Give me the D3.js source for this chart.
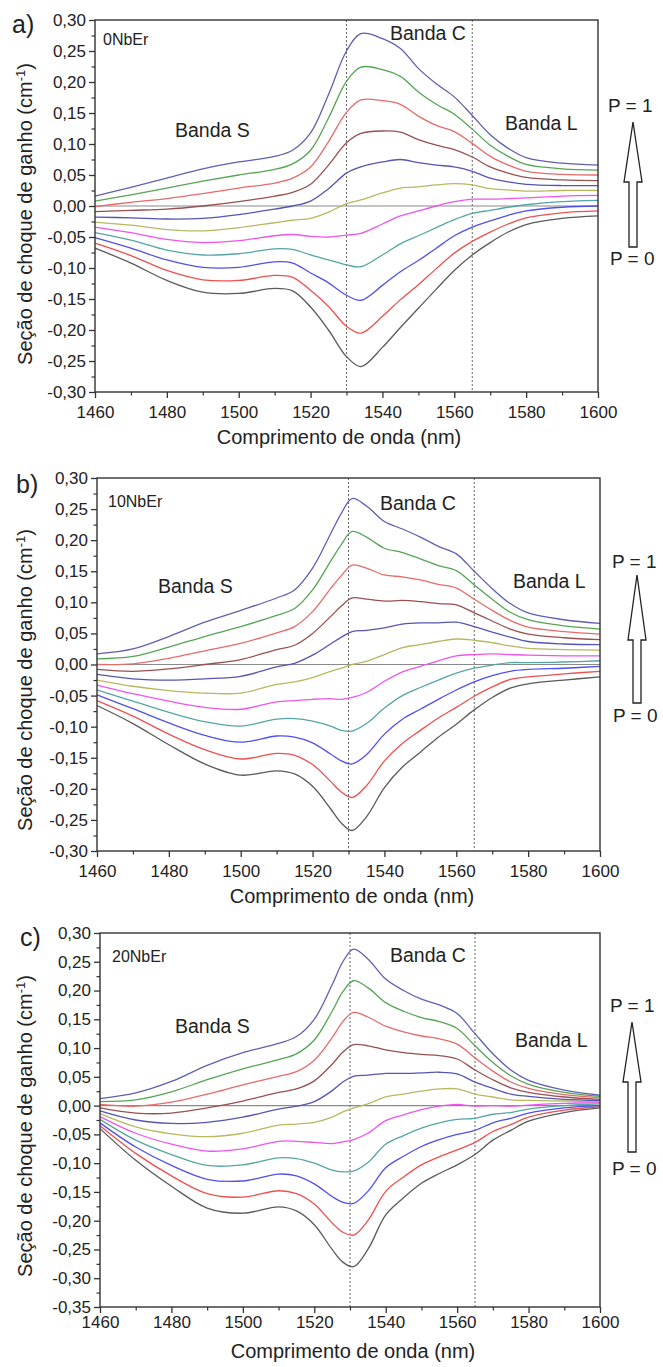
<!DOCTYPE html>
<html><head><meta charset="utf-8">
<script src="https://cdn.jsdelivr.net/npm/d3@7"></script>
<style>
body{margin:0;background:#fff}
svg{display:block}
text{font-family:"Liberation Sans",Arial,Helvetica,sans-serif;fill:#222}
</style>
</head><body>
<svg id="chart" width="663" height="1367"></svg>
<script>
// ---------------- DATA ----------------
const wlA = [1460,1470,1480,1490,1500,1510,1515,1520,1525,1530,1534,1540,1545,1550,1555,1560,1565,1570,1575,1580,1590,1600];
const a00 = [-.068,-.092,-.120,-.139,-.141,-.133,-.137,-.163,-.200,-.243,-.259,-.228,-.196,-.165,-.134,-.104,-.079,-.059,-.042,-.030,-.020,-.016];
const a01 = [-.060,-.080,-.104,-.119,-.120,-.112,-.115,-.136,-.162,-.194,-.205,-.178,-.151,-.127,-.101,-.076,-.057,-.042,-.029,-.019,-.011,-.008];
const a02 = [-.051,-.068,-.087,-.099,-.099,-.090,-.092,-.108,-.124,-.144,-.152,-.128,-.106,-.088,-.068,-.048,-.034,-.024,-.015,-.008,-.002,.000];
const a03 = [-.043,-.055,-.071,-.079,-.077,-.069,-.070,-.079,-.087,-.095,-.098,-.079,-.061,-.048,-.035,-.022,-.012,-.007,-.002,.002,.007,.009];
const a04 = [-.034,-.043,-.054,-.059,-.056,-.048,-.046,-.049,-.050,-.047,-.044,-.029,-.016,-.008,.000,.007,.011,.011,.012,.013,.016,.017];
const a05 = [-.026,-.031,-.038,-.040,-.035,-.027,-.023,-.020,-.010,.004,.010,.021,.029,.031,.034,.036,.034,.028,.026,.024,.025,.025];
const a06 = [-.018,-.019,-.021,-.020,-.014,-.005,.000,.008,.028,.053,.063,.071,.075,.070,.066,.063,.056,.045,.039,.035,.033,.033];
const a07 = [-.009,-.007,-.005,.000,.007,.016,.022,.035,.066,.102,.117,.121,.119,.107,.098,.091,.079,.063,.053,.046,.042,.041];
const a08 = [-.001,.006,.012,.020,.029,.037,.045,.063,.104,.151,.171,.170,.164,.145,.130,.120,.101,.080,.066,.056,.051,.050];
const a09 = [.008,.018,.029,.040,.050,.059,.068,.090,.142,.201,.224,.220,.209,.184,.164,.148,.124,.098,.080,.067,.060,.058];
const a10 = [.016,.030,.045,.060,.071,.080,.090,.118,.180,.250,.278,.270,.254,.222,.197,.176,.146,.115,.093,.078,.069,.066];

const wlB = [1460,1470,1480,1490,1500,1510,1515,1520,1525,1528,1531,1535,1540,1545,1550,1555,1560,1565,1570,1575,1580,1590,1600];
const b00 = [-.066,-.095,-.129,-.160,-.178,-.171,-.176,-.196,-.232,-.255,-.267,-.245,-.198,-.165,-.141,-.117,-.096,-.073,-.053,-.038,-.031,-.025,-.020];
const b01 = [-.058,-.083,-.112,-.137,-.152,-.143,-.146,-.161,-.188,-.205,-.214,-.195,-.155,-.127,-.106,-.086,-.069,-.051,-.036,-.024,-.020,-.015,-.011];
const b02 = [-.049,-.071,-.094,-.114,-.125,-.115,-.117,-.126,-.144,-.155,-.160,-.145,-.112,-.088,-.072,-.056,-.041,-.028,-.018,-.011,-.008,-.006,-.003];
const b03 = [-.041,-.059,-.077,-.092,-.099,-.088,-.087,-.091,-.099,-.106,-.107,-.095,-.070,-.050,-.037,-.025,-.014,-.006,-.001,.003,.003,.004,.006];
const b04 = [-.033,-.047,-.059,-.069,-.072,-.060,-.058,-.056,-.055,-.056,-.053,-.045,-.027,-.012,-.003,.006,.014,.016,.017,.016,.015,.014,.014];
const b05 = [-.025,-.035,-.042,-.046,-.046,-.032,-.028,-.021,-.011,-.006,.000,.005,.016,.027,.032,.037,.041,.039,.035,.030,.026,.024,.023];
const b06 = [-.016,-.023,-.025,-.023,-.019,-.004,.002,.015,.033,.044,.053,.055,.059,.065,.067,.067,.068,.061,.052,.044,.037,.033,.032];
const b07 = [-.008,-.011,-.007,.000,.008,.024,.031,.050,.077,.094,.107,.105,.102,.103,.101,.098,.096,.083,.070,.057,.049,.043,.040];
const b08 = [.000,.001,.010,.022,.034,.051,.061,.085,.122,.143,.160,.155,.144,.141,.136,.129,.123,.105,.087,.071,.060,.053,.049];
const b09 = [.009,.013,.028,.045,.061,.079,.090,.120,.166,.193,.214,.205,.187,.180,.170,.159,.151,.128,.105,.084,.072,.062,.057];
const b10 = [.017,.025,.045,.068,.087,.107,.120,.155,.210,.243,.267,.255,.230,.218,.205,.190,.178,.150,.122,.098,.083,.072,.066];

const wlC = [1460,1470,1480,1490,1500,1510,1515,1520,1525,1528,1531,1535,1540,1545,1550,1555,1560,1565,1570,1575,1580,1590,1600];
const c00 = [-.040,-.095,-.140,-.178,-.187,-.176,-.183,-.207,-.250,-.272,-.280,-.250,-.190,-.160,-.135,-.118,-.103,-.085,-.060,-.043,-.027,-.012,-.004];
const c01 = [-.035,-.083,-.122,-.153,-.159,-.148,-.153,-.171,-.204,-.220,-.225,-.200,-.149,-.124,-.103,-.089,-.077,-.064,-.045,-.033,-.020,-.008,-.002];
const c02 = [-.030,-.072,-.104,-.128,-.131,-.119,-.122,-.136,-.158,-.168,-.170,-.149,-.108,-.088,-.071,-.059,-.050,-.043,-.030,-.022,-.013,-.004,.000];
const c03 = [-.024,-.060,-.085,-.104,-.103,-.091,-.092,-.100,-.112,-.115,-.114,-.099,-.067,-.052,-.039,-.030,-.024,-.022,-.015,-.012,-.006,.000,.003];
const c04 = [-.019,-.048,-.067,-.079,-.075,-.062,-.062,-.064,-.066,-.063,-.059,-.048,-.026,-.016,-.007,-.001,.002,-.001,.000,-.001,.001,.004,.005];
const c05 = [-.014,-.037,-.049,-.054,-.048,-.034,-.032,-.029,-.020,-.011,-.004,.003,.015,.020,.025,.029,.029,.020,.015,.010,.009,.008,.007];
const c06 = [-.009,-.025,-.031,-.029,-.020,-.006,-.001,.007,.026,.041,.051,.053,.056,.056,.057,.058,.055,.041,.030,.020,.016,.011,.009];
const c07 = [-.004,-.013,-.013,-.004,.008,.023,.029,.043,.072,.093,.106,.104,.097,.092,.089,.087,.081,.062,.045,.031,.023,.015,.011];
const c08 = [.002,-.001,.006,.020,.036,.051,.059,.079,.118,.146,.162,.154,.138,.128,.121,.116,.107,.083,.060,.041,.030,.019,.014];
const c09 = [.007,.010,.024,.045,.064,.080,.090,.114,.164,.198,.217,.205,.179,.164,.153,.146,.134,.104,.075,.052,.037,.023,.016];
const c10 = [.012,.022,.042,.070,.092,.108,.120,.150,.210,.250,.272,.255,.220,.200,.185,.175,.160,.125,.090,.062,.044,.027,.018];

const seriesA = [a00,a01,a02,a03,a04,a05,a06,a07,a08,a09,a10];
const seriesB = [b00,b01,b02,b03,b04,b05,b06,b07,b08,b09,b10];
const seriesC = [c00,c01,c02,c03,c04,c05,c06,c07,c08,c09,c10];

// P = 0.0 ... 1.0
const curveColors = ["#5a5a5a","#ee5050","#5050ee","#55a5a5","#ee55ee","#b8b860","#5555b5","#985050","#e86a6a","#55a555","#6060b0"];
const xTicks = [1460,1480,1500,1520,1540,1560,1580,1600];
const xMinor = [1470,1490,1510,1530,1550,1570,1590];
const yTicksAB = [-0.30,-0.25,-0.20,-0.15,-0.10,-0.05,0.00,0.05,0.10,0.15,0.20,0.25,0.30];
const yTicksC  = [-0.35,-0.30,-0.25,-0.20,-0.15,-0.10,-0.05,0.00,0.05,0.10,0.15,0.20,0.25,0.30];
const bandLines = [1530,1565];
const sampleNames = ["0NbEr","10NbEr","20NbEr"];
const panelLetters = ["a)","b)","c)"];

// ---------------- LAYOUT ----------------
const layout = [
  {wl:wlA, series:seriesA, yTicks:yTicksAB, yDom:[-0.30,0.30], L:95, R:598, T:20, B:392,
   letter:[12,33], sample:[103,45], bS:[175,137], bC:[390,40], bL:[505,130],
   p1:[608,112], p0:[610,265], arrow:[633,122,182,247], xLab:418, xTitle:[339,444], yTitle:[32,214]},
  {wl:wlB, series:seriesB, yTicks:yTicksAB, yDom:[-0.30,0.30], L:97, R:600, T:478, B:851,
   letter:[16,493], sample:[108,507], bS:[158,593], bC:[380,510], bL:[513,588],
   p1:[612,568], p0:[613,722], arrow:[637,575,640,703], xLab:877, xTitle:[352,903], yTitle:[32,680]},
  {wl:wlC, series:seriesC, yTicks:yTicksC, yDom:[-0.35,0.30], L:100, R:600, T:933, B:1307,
   letter:[20,946], sample:[112,962], bS:[175,1033], bC:[390,962], bL:[515,1047],
   p1:[610,1012], p0:[612,1175], arrow:[632,1022,1082,1152], xLab:1328, xTitle:[353,1358], yTitle:[32,1126]}
];

const fmt = d3.formatLocale({decimal:",",thousands:".",grouping:[3],currency:["",""],minus:"-"}).format(".2f");
const svg = d3.select("#chart");

layout.forEach((p, i) => {
  const x = d3.scaleLinear().domain([1460,1600]).range([p.L, p.R]);
  const y = d3.scaleLinear().domain(p.yDom).range([p.B, p.T]);
  const g = svg.append("g");

  // zero line
  g.append("line").attr("x1", p.L).attr("x2", p.R).attr("y1", y(0)).attr("y2", y(0))
    .attr("stroke", "#8a8a8a").attr("stroke-width", 1.2);

  // band boundaries
  bandLines.forEach(w => {
    g.append("line").attr("x1", x(w)).attr("x2", x(w)).attr("y1", p.T).attr("y2", p.B)
      .attr("stroke", "#666").attr("stroke-width", 1).attr("stroke-dasharray", "2,2");
  });

  // curves
  const line = d3.line().x((d, k) => x(p.wl[k])).y(d => y(d)).curve(d3.curveCatmullRom.alpha(0.5));
  p.series.forEach((s, k) => {
    g.append("path").attr("d", line(s)).attr("fill", "none")
      .attr("stroke", curveColors[k]).attr("stroke-width", 1.3);
  });

  // frame
  g.append("rect").attr("x", p.L).attr("y", p.T).attr("width", p.R - p.L).attr("height", p.B - p.T)
    .attr("fill", "none").attr("stroke", "#333").attr("stroke-width", 1.4);

  // axes
  const yMinor = d3.range(p.yDom[0] + 0.025, p.yDom[1], 0.05);
  const yAxis = d3.axisLeft(y).tickValues(p.yTicks).tickFormat(fmt).tickSize(6).tickPadding(3);
  const ya = g.append("g").attr("transform", `translate(${p.L},0)`).call(yAxis);
  ya.select(".domain").remove();
  ya.selectAll("text").style("font-size", "17px").attr("fill", "#222");
  ya.selectAll("line").attr("stroke", "#333").attr("stroke-width", 1.3);
  const yma = g.append("g").attr("transform", `translate(${p.L},0)`)
    .call(d3.axisLeft(y).tickValues(yMinor).tickFormat("").tickSize(3.5));
  yma.select(".domain").remove();
  yma.selectAll("line").attr("stroke", "#333").attr("stroke-width", 1.2);

  const xAxis = d3.axisBottom(x).tickValues(xTicks).tickFormat(d3.format("d")).tickSize(6).tickPadding(3);
  const xa = g.append("g").attr("transform", `translate(0,${p.B})`).call(xAxis);
  xa.select(".domain").remove();
  xa.selectAll("line").attr("stroke", "#333").attr("stroke-width", 1.3);
  xa.selectAll("text").style("font-size", "17px").attr("fill", "#222").attr("dy", null)
    .attr("y", p.xLab - p.B);
  const xma = g.append("g").attr("transform", `translate(0,${p.B})`)
    .call(d3.axisBottom(x).tickValues(xMinor).tickFormat("").tickSize(3.5));
  xma.select(".domain").remove();
  xma.selectAll("line").attr("stroke", "#333").attr("stroke-width", 1.2);

  // titles
  g.append("text").attr("x", p.xTitle[0]).attr("y", p.xTitle[1]).attr("text-anchor", "middle")
    .style("font-size", "20px").text("Comprimento de onda (nm)");
  const yt = g.append("text").attr("transform", `translate(${p.yTitle[0]},${p.yTitle[1]}) rotate(-90)`)
    .attr("text-anchor", "middle").style("font-size", "20px");
  yt.append("tspan").text("Seção de choque de ganho (cm");
  yt.append("tspan").attr("baseline-shift", "super").style("font-size", "13px").text("-1");
  yt.append("tspan").text(")");

  // labels
  g.append("text").attr("x", p.letter[0]).attr("y", p.letter[1]).style("font-size", "25px").text(panelLetters[i]);
  g.append("text").attr("x", p.sample[0]).attr("y", p.sample[1]).style("font-size", "16px").text(sampleNames[i]);
  g.append("text").attr("x", p.bS[0]).attr("y", p.bS[1]).style("font-size", "19.5px").text("Banda S");
  g.append("text").attr("x", p.bC[0]).attr("y", p.bC[1]).style("font-size", "19.5px").text("Banda C");
  g.append("text").attr("x", p.bL[0]).attr("y", p.bL[1]).style("font-size", "19.5px").text("Banda L");
  g.append("text").attr("x", p.p1[0]).attr("y", p.p1[1]).style("font-size", "19px").text("P = 1");
  g.append("text").attr("x", p.p0[0]).attr("y", p.p0[1]).style("font-size", "19px").text("P = 0");

  // hollow arrow
  const [cx, tip, hb, bot] = p.arrow;
  const pts = [[cx, tip],[cx + 9, hb],[cx + 4, hb],[cx + 4, bot],[cx - 4, bot],[cx - 4, hb],[cx - 9, hb]];
  g.append("polygon").attr("points", pts.map(d => d.join(",")).join(" "))
    .attr("fill", "#fff").attr("stroke", "#222").attr("stroke-width", 1.3);
});
</script>
</body></html>
